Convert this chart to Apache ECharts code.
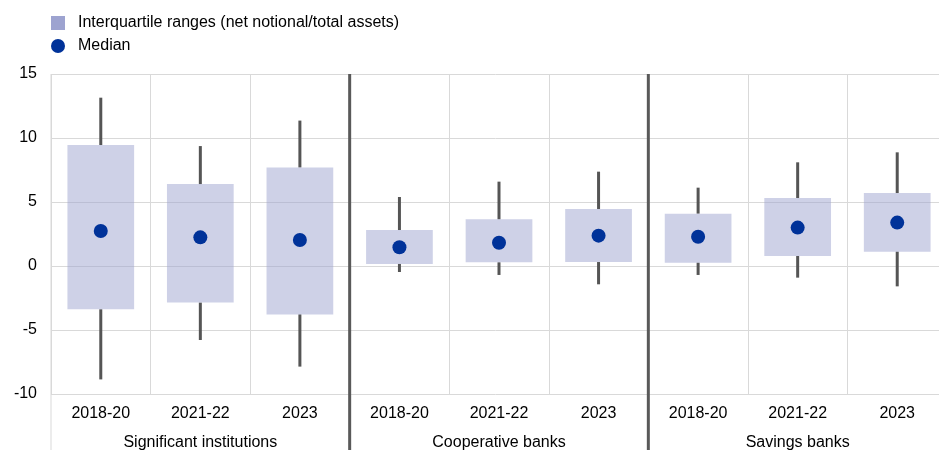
<!DOCTYPE html>
<html><head><meta charset="utf-8">
<script src="https://cdn.jsdelivr.net/npm/echarts@6/dist/echarts.min.js"></script>
<style>html,body{margin:0;padding:0;background:#fff}#c{width:939px;height:450px}</style>
</head><body><div id="c"></div>
<script>
const categories = ['2018-20','2021-22','2023','2018-20','2021-22','2023','2018-20','2021-22','2023'];
const groups = ['Significant institutions','Cooperative banks','Savings banks'];
const whiskerLow  = [-8.86, -5.78, -7.86, -0.47, -0.70, -1.43, -0.70, -0.91, -1.59];
const quartile1   = [-3.38, -2.86, -3.78,  0.16,  0.29,  0.31,  0.26,  0.78,  1.12];
const medians     = [ 2.73,  2.24,  2.03,  1.46,  1.82,  2.37,  2.29,  3.00,  3.39];
const quartile3   = [ 9.45,  6.40,  7.70,  2.81,  3.65,  4.45,  4.09,  5.31,  5.70];
const whiskerHigh = [13.15,  9.37, 11.36,  5.39,  6.59,  7.37,  6.12,  8.10,  8.88];
const yMin = -10, yMax = 15, yStep = 5;
const groupEnds = [2, 5];

const FONT = 'Liberation Sans, Arial, sans-serif';
const boxData = categories.map((c, i) => [i, whiskerLow[i], quartile1[i], medians[i], quartile3[i], whiskerHigh[i]]);
const medianData = categories.map((c, i) => [i, medians[i]]);

const chart = echarts.init(document.getElementById('c'));
chart.setOption({
  animation: false,
  textStyle: { fontFamily: FONT },
  legend: {
    orient: 'vertical', left: 51, top: 15, padding: 0,
    itemWidth: 14, itemHeight: 14, itemGap: 7,
    textStyle: { fontSize: 16, color: '#000', fontFamily: FONT, padding: [0, 0, 0, 8] },
    data: [
      { name: 'Interquartile ranges (net notional/total assets)', icon: 'rect' },
      { name: 'Median', icon: 'circle' }
    ]
  },
  grid: { left: 51, top: 74, right: -8, bottom: 56, outerBoundsMode: 'none', containLabel: false },
  xAxis: [
    {
      type: 'category', data: categories, boundaryGap: true,
      axisLine: { show: false }, axisTick: { show: false },
      axisLabel: { fontSize: 16, color: '#000', margin: 12, fontFamily: FONT },
      splitLine: { show: true, lineStyle: { color: '#d9d9d9', width: 1 } }
    },
    {
      type: 'category', data: groups, position: 'bottom', offset: 29, boundaryGap: true,
      axisLine: { show: false }, axisTick: { show: false },
      axisLabel: { fontSize: 16, color: '#000', margin: 12, fontFamily: FONT },
      splitLine: { show: false }
    }
  ],
  yAxis: {
    type: 'value', min: yMin, max: yMax, interval: yStep,
    axisLine: { show: false }, axisTick: { show: false },
    axisLabel: { fontSize: 16, color: '#000', margin: 14, fontFamily: FONT },
    splitLine: { lineStyle: { color: '#d9d9d9', width: 1 } }
  },
  series: [
    {
      name: 'Interquartile ranges (net notional/total assets)',
      type: 'custom',
      xAxisIndex: 0,
      itemStyle: { color: '#9da3d0' },
      encode: { x: 0, y: [1, 2, 3, 4, 5] },
      data: boxData,
      renderItem: function (params, api) {
        const i = api.value(0);
        const bw = api.size([1, 0])[0];
        const w = bw * 0.67;
        const pLow = api.coord([i, api.value(1)]);
        const pQ1 = api.coord([i, api.value(2)]);
        const pQ3 = api.coord([i, api.value(4)]);
        const pHigh = api.coord([i, api.value(5)]);
        const top = api.coord([i, yMax])[1];
        const H = api.getHeight();
        const children = [
          { type: 'line', shape: { x1: pHigh[0], y1: pHigh[1], x2: pQ3[0], y2: pQ3[1] }, style: { stroke: '#555555', lineWidth: 3 } },
          { type: 'line', shape: { x1: pQ1[0], y1: pQ1[1], x2: pLow[0], y2: pLow[1] }, style: { stroke: '#555555', lineWidth: 3 } },
          { type: 'rect', shape: { x: pQ3[0] - w / 2, y: pQ3[1], width: w, height: pQ1[1] - pQ3[1] }, style: { fill: '#9da3d0', opacity: 0.5 } }
        ];
        if (i === 0) {
          const xl = pQ1[0] - bw / 2;
          children.push({ type: 'line', shape: { x1: xl, y1: top, x2: xl, y2: H }, style: { stroke: '#d9d9d9', lineWidth: 1 } });
        }
        if (groupEnds.indexOf(i) >= 0) {
          const xs = pQ1[0] + bw / 2;
          children.push({ type: 'line', shape: { x1: xs, y1: top, x2: xs, y2: H }, style: { stroke: '#595959', lineWidth: 3 } });
        }
        return { type: 'group', children: children };
      },
      z: 2
    },
    {
      name: 'Median', type: 'scatter', xAxisIndex: 0,
      symbol: 'circle', symbolSize: 14,
      itemStyle: { color: '#003299', opacity: 1 },
      data: medianData, z: 5
    }
  ]
});
</script></body></html>
